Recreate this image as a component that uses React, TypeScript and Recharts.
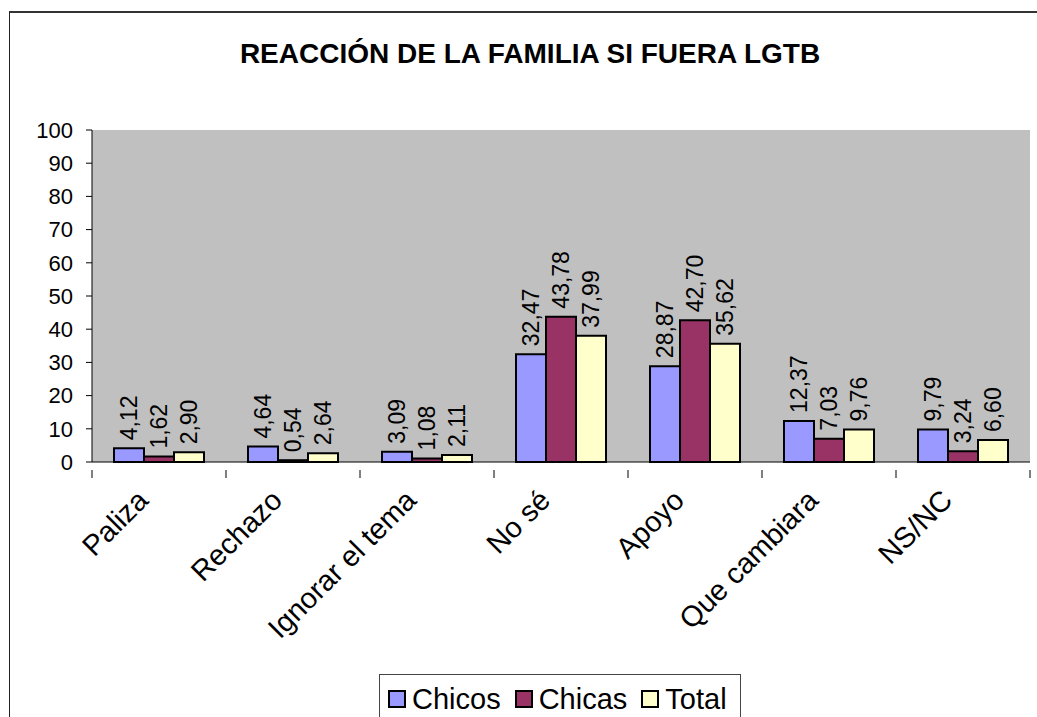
import React from 'react';
import { BarChart, Bar, XAxis, YAxis, CartesianGrid, LabelList, Legend } from 'recharts';

const categories = ['Paliza', 'Rechazo', 'Ignorar el tema', 'No sé', 'Apoyo', 'Que cambiara', 'NS/NC'];
const chicos = [4.12, 4.64, 3.09, 32.47, 28.87, 12.37, 9.79];
const chicas = [1.62, 0.54, 1.08, 43.78, 42.7, 7.03, 3.24];
const total = [2.9, 2.64, 2.11, 37.99, 35.62, 9.76, 6.6];
const yTicks = [0, 10, 20, 30, 40, 50, 60, 70, 80, 90, 100];

const series = [
  { key: 'chicos', name: 'Chicos', color: '#9999FF' },
  { key: 'chicas', name: 'Chicas', color: '#993366' },
  { key: 'total', name: 'Total', color: '#FFFFCC' },
];

const data = categories.map((c, i) => ({
  name: c,
  chicos: chicos[i],
  chicas: chicas[i],
  total: total[i],
}));

const FONT = 'Arial, "Liberation Sans", sans-serif';

const fmt = (v: number) => v.toFixed(2).replace('.', ',');

const ValueLabel = (props: any) => {
  const { x, y, width, value } = props;
  const cx = x + width / 2;
  const ly = y - 8;
  return (
    <text
      x={cx}
      y={ly}
      transform={`rotate(-90, ${cx}, ${ly})`}
      textAnchor="start"
      dominantBaseline="central"
      fontSize={23}
      fontFamily={FONT}
      fill="#000"
    >
      {fmt(value)}
    </text>
  );
};

const CategoryTick = (props: any) => {
  const { x, y, payload, index } = props;
  const half = payload.offset || 67;
  const lx = x - 9;
  const ly = y + 32;
  return (
    <g>
      <line x1={x - half} y1={y} x2={x - half} y2={y + 8} stroke="#000" />
      {index === categories.length - 1 && (
        <line x1={x + half} y1={y} x2={x + half} y2={y + 8} stroke="#000" />
      )}
      <text
        x={lx}
        y={ly}
        transform={`rotate(-45, ${lx}, ${ly})`}
        textAnchor="end"
        fontSize={29}
        fontFamily={FONT}
        fill="#000"
      >
        {payload.value}
      </text>
    </g>
  );
};

const LegendBox = () => (
  <div
    style={{
      width: 362,
      height: 60,
      border: '1px solid #444',
      boxSizing: 'border-box',
      display: 'flex',
      alignItems: 'flex-start',
      paddingLeft: 8,
      paddingTop: 12,
      fontFamily: FONT,
      fontSize: 29,
      lineHeight: '24px',
      background: '#fff',
    }}
  >
    {series.map((s) => (
      <div key={s.key} style={{ display: 'flex', alignItems: 'center', marginRight: 14 }}>
        <span
          style={{
            display: 'inline-block',
            width: 18,
            height: 18,
            boxSizing: 'border-box',
            border: '2px solid #000',
            background: s.color,
            marginRight: 6,
          }}
        />
        <span>{s.name}</span>
      </div>
    ))}
  </div>
);

export default function App() {
  return (
    <div
      style={{
        position: 'absolute',
        left: 0,
        top: 0,
        width: 1037,
        height: 717,
        overflow: 'hidden',
        background: '#fff',
      }}
    >
      <div
        style={{
          position: 'absolute',
          left: 9,
          top: 11,
          width: 1200,
          height: 900,
          borderLeft: '1px solid #222',
          borderTop: '2px solid #333',
        }}
      />
      <div
        style={{
          position: 'absolute',
          left: 30,
          top: 40,
          width: 1000,
          textAlign: 'center',
          fontFamily: FONT,
          fontWeight: 'bold',
          fontSize: 28,
          lineHeight: '28px',
        }}
      >
        REACCIÓN DE LA FAMILIA SI FUERA LGTB
      </div>
      <div style={{ position: 'absolute', left: 0, top: 0 }}>
        <BarChart
          width={1037}
          height={717}
          data={data}
          margin={{ top: 130, right: 7, left: 0, bottom: 0 }}
          barCategoryGap={22}
          barGap={0}
        >
          <CartesianGrid fill="#C0C0C0" stroke="none" horizontal={false} vertical={false} />
          <XAxis
            dataKey="name"
            height={255}
            axisLine={{ stroke: '#000' }}
            tickLine={false}
            interval={0}
            tick={<CategoryTick />}
          />
          <YAxis
            width={92}
            domain={[0, 100]}
            ticks={yTicks}
            interval={0}
            axisLine={{ stroke: '#000' }}
            tickLine={{ stroke: '#000' }}
            tickSize={6}
            tickMargin={13}
            tick={{ fill: '#000', fontSize: 22, fontFamily: FONT }}
          />
          <Legend
            layout="vertical"
            verticalAlign="middle"
            align="center"
            wrapperStyle={{ position: 'absolute', left: 379, top: 674, width: 362 }}
            content={<LegendBox />}
          />
          {series.map((s) => (
            <Bar
              key={s.key}
              dataKey={s.key}
              name={s.name}
              fill={s.color}
              stroke="#000"
              strokeWidth={2}
              isAnimationActive={false}
            >
              <LabelList dataKey={s.key} content={<ValueLabel />} />
            </Bar>
          ))}
        </BarChart>
      </div>
    </div>
  );
}
